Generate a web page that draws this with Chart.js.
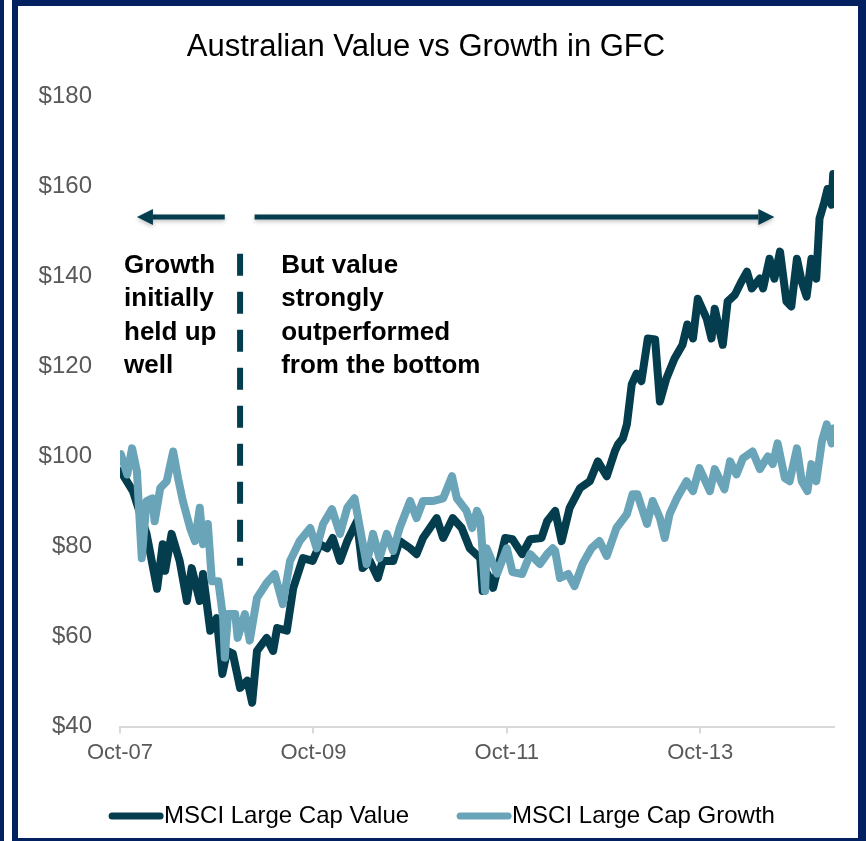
<!DOCTYPE html>
<html>
<head>
<meta charset="utf-8">
<title>Australian Value vs Growth in GFC</title>
<script src="https://cdn.jsdelivr.net/npm/chart.js@4.4.0/dist/chart.umd.min.js"></script>
<style>
  html, body { margin: 0; padding: 0; background: #fff; }
  body { width: 866px; height: 841px; position: relative; overflow: hidden; }
  .strip { position: absolute; left: 0; top: 0; width: 4px; height: 841px; background: #032160; }
  .frame { position: absolute; left: 12px; top: 0; width: 854px; height: 841px; box-sizing: border-box;
           border-style: solid; border-color: #032160; border-width: 6px 8px 3px 6px; }
  .chart-box { position: absolute; left: 18px; top: 6px; width: 840px; height: 832px; }
</style>
</head>
<body>
<div class="strip"></div>
<div class="frame"></div>
<div class="chart-box"><canvas id="gfcChart"></canvas></div>
<script>
// Months since Oct-07
const valueMonths = [0.1,1.6,3.3,4.6,5.3,5.6,6.4,7.4,8.3,8.9,9.9,10.3,11.2,12.0,12.7,13.3,14.0,14.9,15.8,16.4,
  17.0,18.2,19.0,19.5,20.7,21.5,22.7,23.9,24.8,25.7,26.4,27.3,28.2,29.4,30.1,31.0,32.0,32.6,33.9,34.7,
  36.0,36.8,37.6,39.3,40.1,41.3,42.4,43.4,44.7,45.0,45.6,46.3,47.8,48.7,49.9,50.9,52.3,53.0,54.0,54.8,
  55.8,57.1,58.3,59.3,60.4,61.4,61.8,62.4,62.9,63.5,64.1,64.7,65.5,66.4,67.0,67.8,68.8,69.8,70.4,71.1,
  71.7,72.8,73.4,73.8,74.8,75.4,76.3,77.1,77.8,78.4,79.4,79.8,80.6,81.2,81.9,82.7,83.3,84.0,84.6,85.2,
  85.8,86.4,86.8,87.4,87.8,88.3,88.5];
const valueLevels = [96.7,92.3,82.8,70.6,80.5,74.6,82.8,76.8,67.9,75.2,67.9,73.9,61.3,64.1,51.7,56.8,56.2,48.6,50.2,45.3,
  56.8,59.7,56.8,61.9,61.3,70.8,77.4,76.8,80.5,79.6,81.9,76.8,81.2,85.6,75.2,76.8,73.0,76.8,76.8,81.2,
  79.6,78.3,81.9,86.3,81.9,86.3,84.1,79.6,77.4,70.1,73.9,70.8,81.9,81.6,78.3,81.6,81.9,85.6,87.9,81.2,
  88.6,93.0,94.5,98.9,95.6,101.1,102.7,104.0,107.1,116.0,118.4,116.7,126.2,126.0,112.2,117.3,121.7,124.8,129.3,126.2,
  135.0,130.6,126.2,132.8,124.8,134.4,135.9,138.8,141.0,137.3,139.5,137.3,143.9,139.5,145.5,134.4,133.3,143.9,138.8,135.5,
  143.9,139.5,152.8,156.5,159.4,155.9,162.7];

const growthMonths = [0.1,0.9,1.5,2.1,2.7,3.3,4.0,4.3,5.0,5.8,6.6,7.2,7.8,8.7,9.3,9.9,10.3,10.9,11.4,12.2,
  12.8,13.0,13.4,14.3,14.6,15.5,16.1,17.0,18.2,19.2,20.2,21.1,22.3,23.6,24.4,25.2,26.3,27.3,28.2,29.1,
  30.0,30.6,31.4,32.2,33.1,33.9,34.7,36.0,36.8,37.6,38.8,40.1,41.2,41.8,43.0,43.7,44.3,44.7,44.9,45.3,
  45.5,46.8,48.0,48.7,49.9,50.9,52.1,53.0,53.7,54.0,54.6,55.6,56.4,57.4,58.5,59.5,60.4,61.6,62.9,63.6,
  64.2,65.4,66.1,67.0,67.6,68.2,69.1,70.3,71.1,71.9,73.2,73.8,75.0,75.7,76.5,77.3,78.5,79.4,80.4,81.0,
  81.6,82.5,83.1,84.0,84.6,85.3,85.8,86.4,87.1,87.7,88.3,88.5];
const growthLevels = [100.5,96.0,101.8,96.7,77.4,90.1,90.7,85.6,93.0,94.5,101.1,95.2,90.1,84.1,81.2,88.6,80.5,85.0,72.3,72.3,
  64.1,55.3,65.0,65.0,59.7,65.0,59.1,68.6,71.9,73.9,67.2,76.8,81.2,84.1,79.6,85.0,88.3,82.8,88.6,90.7,
  81.9,76.1,82.8,77.4,82.8,79.0,84.1,90.1,86.3,90.1,90.1,90.7,95.6,90.7,87.9,84.1,87.9,86.3,81.2,70.1,
  79.6,74.0,79.6,74.3,73.9,78.3,76.1,78.3,79.6,79.0,73.0,73.9,71.2,76.1,79.6,81.2,77.9,84.1,87.2,91.6,
  91.6,85.0,90.1,86.3,81.9,87.2,90.7,94.5,92.3,97.4,92.3,97.2,92.7,98.9,96.0,99.6,101.1,97.2,100.0,98.3,
  102.9,95.2,94.5,101.8,94.5,92.3,98.3,94.5,103.4,107.1,102.9,106.2];

const tickMonths = [0, 24, 48, 72];
const tickLabels = ['Oct-07', 'Oct-09', 'Oct-11', 'Oct-13'];
const seriesNames = ['MSCI Large Cap Value', 'MSCI Large Cap Growth'];
const noteLeft = ['Growth', 'initially', 'held up', 'well'];
const noteRight = ['But value', 'strongly', 'outperformed', 'from the bottom'];

const DARK = '#043d4d';
const LIGHT = '#6aa4b9';
const FONT = "'Liberation Sans', Arial, sans-serif";

function toPoints(xs, ys) {
  return xs.map((x, i) => ({ x: x, y: ys[i] }));
}

// Arrow with a filled head, drawn with a soft shadow
function drawArrow(ctx, fromX, toX, yy) {
  const dir = Math.sign(toX - fromX);
  const head = 16;
  ctx.save();
  ctx.shadowColor = 'rgba(0,0,0,0.25)';
  ctx.shadowBlur = 4;
  ctx.shadowOffsetY = 2;
  ctx.strokeStyle = DARK;
  ctx.fillStyle = DARK;
  ctx.lineWidth = 5;
  ctx.beginPath();
  ctx.moveTo(fromX, yy);
  ctx.lineTo(toX - dir * head, yy);
  ctx.stroke();
  ctx.beginPath();
  ctx.moveTo(toX, yy);
  ctx.lineTo(toX - dir * head, yy - 8);
  ctx.lineTo(toX - dir * head, yy + 8);
  ctx.closePath();
  ctx.fill();
  ctx.restore();
}

const notesPlugin = {
  id: 'gfcNotes',
  afterDraw(chart) {
    const { ctx, scales: { x, y } } = chart;
    ctx.save();

    // arrows
    const arrowY = y.getPixelForValue(153.2);
    drawArrow(ctx, x.getPixelForValue(13.0), x.getPixelForValue(2.1), arrowY);
    drawArrow(ctx, x.getPixelForValue(16.7), x.getPixelForValue(81.2), arrowY);

    // dashed divider at the bottom
    ctx.save();
    ctx.strokeStyle = DARK;
    ctx.lineWidth = 6;
    ctx.setLineDash([22, 16]);
    ctx.beginPath();
    ctx.moveTo(x.getPixelForValue(14.9), y.getPixelForValue(145.0));
    ctx.lineTo(x.getPixelForValue(14.9), y.getPixelForValue(75.7));
    ctx.stroke();
    ctx.restore();

    // annotation text
    ctx.fillStyle = '#000';
    ctx.font = 'bold 26px ' + FONT;
    ctx.textAlign = 'left';
    ctx.textBaseline = 'alphabetic';
    const base = y.getPixelForValue(140.8);
    noteLeft.forEach((t, i) => ctx.fillText(t, x.getPixelForValue(0.5), base + i * 33.5));
    noteRight.forEach((t, i) => ctx.fillText(t, x.getPixelForValue(20.0), base + i * 33.5));

    // legend
    ctx.font = '24px ' + FONT;
    ctx.textBaseline = 'middle';
    const colors = [DARK, LIGHT];
    const lineLen = 54;
    const widths = seriesNames.map(n => ctx.measureText(n).width);
    const total = widths.reduce((a, w) => a + lineLen + 1 + w, 0) + 48;
    let lx = chart.width / 2 - total / 2 + 4;
    const ly = chart.height - 22;
    seriesNames.forEach((name, i) => {
      ctx.strokeStyle = colors[i];
      ctx.lineWidth = 7;
      ctx.lineCap = 'round';
      ctx.beginPath();
      ctx.moveTo(lx + 3, ly);
      ctx.lineTo(lx + lineLen - 3, ly);
      ctx.stroke();
      ctx.fillStyle = '#000';
      ctx.fillText(name, lx + lineLen + 1, ly);
      lx += lineLen + 1 + widths[i] + 48;
    });

    ctx.restore();
  }
};

function init() {
  const ctx = document.getElementById('gfcChart');
  new Chart(ctx, {
    type: 'line',
    data: {
      datasets: [
        {
          label: seriesNames[0],
          data: toPoints(valueMonths, valueLevels),
          borderColor: DARK,
          backgroundColor: DARK,
          borderWidth: 8,
          pointRadius: 0,
          tension: 0,
          borderJoinStyle: 'round',
          borderCapStyle: 'round',
          order: 1
        },
        {
          label: seriesNames[1],
          data: toPoints(growthMonths, growthLevels),
          borderColor: LIGHT,
          backgroundColor: LIGHT,
          borderWidth: 8,
          pointRadius: 0,
          tension: 0,
          borderJoinStyle: 'round',
          borderCapStyle: 'round',
          order: 0
        }
      ]
    },
    options: {
      responsive: true,
      maintainAspectRatio: false,
      animation: false,
      layout: { padding: { left: 0, right: 24, top: 0, bottom: 66 } },
      plugins: {
        legend: { display: false },
        tooltip: { enabled: false },
        title: {
          display: true,
          text: 'Australian Value vs Growth in GFC',
          color: '#000',
          font: { family: FONT, size: 31, weight: 'normal' },
          padding: { top: 23, bottom: 30 }
        }
      },
      scales: {
        x: {
          type: 'linear',
          min: 0,
          max: 88.6,
          afterBuildTicks: (scale) => {
            scale.ticks = tickMonths.map(v => ({ value: v }));
          },
          ticks: {
            autoSkip: false,
            maxRotation: 0,
            padding: 6,
            color: '#595959',
            font: { family: FONT, size: 22 },
            callback: (value, index) => tickLabels[index]
          },
          grid: {
            display: true,
            drawOnChartArea: false,
            drawTicks: true,
            tickLength: 7,
            color: '#d9d9d9',
            lineWidth: 2
          },
          border: { display: true, color: '#d9d9d9', width: 2 }
        },
        y: {
          min: 40,
          max: 180,
          afterFit: (scale) => { scale.width = 102; },
          ticks: {
            stepSize: 20,
            padding: 28,
            color: '#595959',
            font: { family: FONT, size: 24 },
            callback: (v) => '$' + v
          },
          grid: { display: false, drawTicks: false },
          border: { display: false }
        }
      }
    },
    plugins: [notesPlugin]
  });
}

if (document.readyState === 'loading') {
  document.addEventListener('DOMContentLoaded', init);
} else {
  init();
}
</script>
</body>
</html>
